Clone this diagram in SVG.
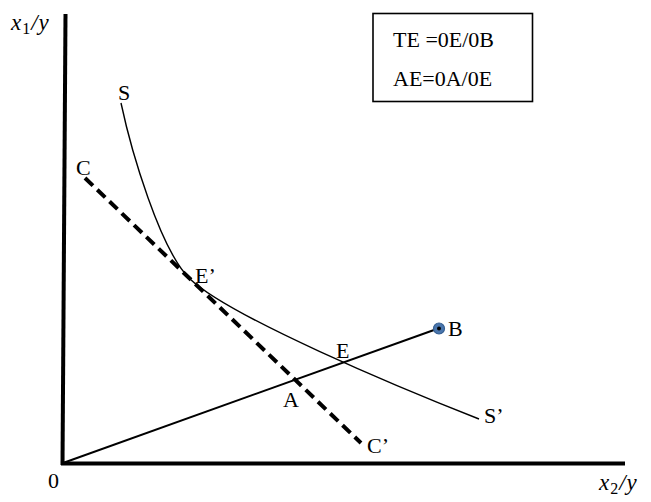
<svg xmlns="http://www.w3.org/2000/svg" width="651" height="502" viewBox="0 0 651 502">
<style>
  .lbl { font-family: "Liberation Serif", "Times New Roman", serif; font-size: 22px; fill: #000; }
  .math { font-family: "Liberation Serif", "Times New Roman", serif; font-size: 23px; fill: #000; font-style: italic; }
  .axis { stroke: #000; stroke-width: 4; fill: none; }
  .thin { stroke: #000; stroke-width: 1.4; fill: none; }
</style>
<rect width="651" height="502" fill="#fff"/>
<g id="axes">
  <line class="axis" x1="65.5" y1="14" x2="62.5" y2="465"/>
  <line class="axis" x1="61" y1="463.5" x2="625" y2="463.5"/>
  <text class="math" x="11" y="30" letter-spacing="1">x<tspan font-style="normal" font-size="16" dy="4">1</tspan><tspan dy="-4">/y</tspan></text>
  <text class="math" x="599" y="490" letter-spacing="1">x<tspan font-style="normal" font-size="16" dy="4">2</tspan><tspan dy="-4">/y</tspan></text>
  <text class="lbl" x="48" y="488">0</text>
</g>
<g id="legend">
  <rect x="373" y="13.5" width="159.5" height="88" fill="#fff" stroke="#000" stroke-width="1.6"/>
  <text class="lbl" x="393" y="47" font-size="23.5">TE =0E/0B</text>
  <text class="lbl" x="393" y="86" font-size="23.5">AE=0A/0E</text>
</g>
<g id="connectors">
  <line id="ray-0B" x1="63" y1="463" x2="434" y2="330" stroke="#000" stroke-width="2"/>
  <line id="budget-CC" x1="85" y1="178" x2="361" y2="443" stroke="#000" stroke-width="4" stroke-dasharray="11 6"/>
  <path id="curve-SS" class="thin" d="M121,103 C131,150 160,250 190,279 C230,317 400,388 479,419"/>
</g>
<g id="node-B">
  <circle cx="439" cy="328.5" r="5.5" fill="#4a76ad" stroke="#365f91" stroke-width="1.2"/>
  <circle cx="439" cy="328.5" r="2" fill="#000"/>
  <text class="lbl" x="448" y="336" font-size="21">B</text>
</g>
<g id="labels">
  <text id="lbl-S" class="lbl" x="118" y="100">S</text>
  <text id="lbl-C" class="lbl" x="76" y="175">C</text>
  <text id="lbl-Ep" class="lbl" x="195" y="283">E’</text>
  <text id="lbl-E" class="lbl" x="336" y="358">E</text>
  <text id="lbl-A" class="lbl" x="283" y="407">A</text>
  <text id="lbl-Cp" class="lbl" x="367" y="453">C’</text>
  <text id="lbl-Sp" class="lbl" x="484" y="423">S’</text>
</g>
</svg>
